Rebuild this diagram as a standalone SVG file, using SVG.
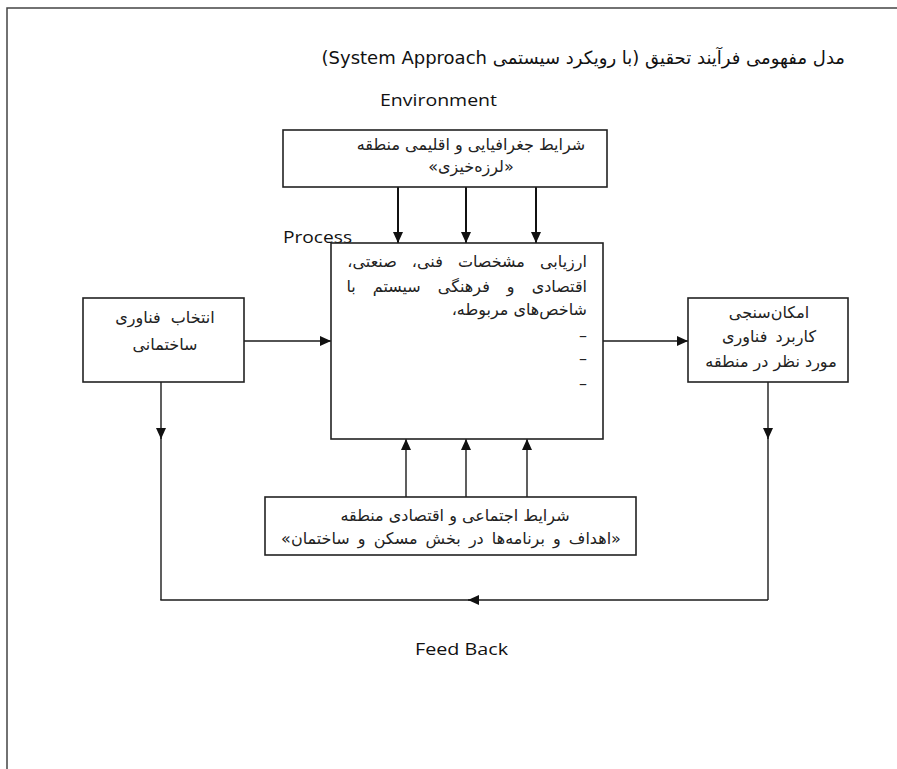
<svg xmlns="http://www.w3.org/2000/svg" width="897" height="769" viewBox="0 0 897 769">
<style>
.bg{fill:#ffffff}
.page{fill:none;stroke:#444;stroke-width:1.5}
.box{fill:#ffffff;stroke:#222;stroke-width:1.6}
.ln{fill:none;stroke:#1a1a1a;stroke-width:1.4}
.lnb{fill:none;stroke:#111;stroke-width:2}
.fa{font-family:"DejaVu Sans","Noto Sans",sans-serif;font-size:16px;fill:#222;direction:rtl}
.title{font-family:"DejaVu Sans",sans-serif;font-size:18px;fill:#111;direction:rtl}
.en{font-family:"Open Sans","DejaVu Sans",sans-serif;font-size:16px;fill:#111}
</style>
<defs>
<marker id="ah" markerUnits="userSpaceOnUse" markerWidth="11" markerHeight="10" refX="11" refY="5" orient="auto">
<path d="M0,0 L11,5 L0,10 z" fill="#111"/>
</marker>
</defs>
<rect class="bg" x="0" y="0" width="897" height="769"/>
<path class="page" d="M7,769 V8 H897"/>

<text class="title" x="845" y="64" text-anchor="start">مدل مفهومی فرآیند تحقیق (با رویکرد سیستمی System Approach)</text>
<text class="en" x="380" y="106" textLength="117" lengthAdjust="spacingAndGlyphs">Environment</text>
<text class="en" x="283" y="243" textLength="69" lengthAdjust="spacingAndGlyphs">Process</text>
<text class="en" x="415" y="655" textLength="93" lengthAdjust="spacingAndGlyphs">Feed Back</text>

<g id="connectors">
<line class="lnb" x1="398" y1="187" x2="398" y2="243" marker-end="url(#ah)"/>
<line class="lnb" x1="466" y1="187" x2="466" y2="243" marker-end="url(#ah)"/>
<line class="lnb" x1="536" y1="187" x2="536" y2="243" marker-end="url(#ah)"/>
<line class="ln" x1="244" y1="341" x2="331" y2="341" marker-end="url(#ah)"/>
<line class="ln" x1="603" y1="341" x2="688" y2="341" marker-end="url(#ah)"/>
<line class="ln" x1="406" y1="497" x2="406" y2="439" marker-end="url(#ah)"/>
<line class="ln" x1="466" y1="497" x2="466" y2="439" marker-end="url(#ah)"/>
<line class="ln" x1="527" y1="497" x2="527" y2="439" marker-end="url(#ah)"/>
<line class="ln" x1="161" y1="382" x2="161" y2="439" marker-end="url(#ah)"/>
<line class="ln" x1="161" y1="437" x2="161" y2="600"/>
<line class="ln" x1="768" y1="382" x2="768" y2="439" marker-end="url(#ah)"/>
<line class="ln" x1="768" y1="437" x2="768" y2="600"/>
<line class="ln" x1="768" y1="600" x2="468" y2="600" marker-end="url(#ah)"/>
<line class="ln" x1="470" y1="600" x2="160.3" y2="600"/>
</g>

<g id="environment">
<rect class="box" x="283" y="130" width="324" height="57"/>
<text class="fa" x="471" y="150" text-anchor="middle">شرایط جغرافیایی و اقلیمی منطقه</text>
<text class="fa" x="471" y="172" text-anchor="middle">«لرزه‌خیزی»</text>
</g>

<g id="process">
<rect class="box" x="331" y="243" width="272" height="196"/>
<text class="fa" x="587" y="267" text-anchor="start" word-spacing="10">ارزیابی مشخصات فنی، صنعتی،</text>
<text class="fa" x="587" y="292" text-anchor="start" word-spacing="12">اقتصادی و فرهنگی سیستم با</text>
<text class="fa" x="587" y="315" text-anchor="start">شاخص‌های مربوطه،</text>
<text class="fa" x="587" y="341" text-anchor="start">–</text>
<text class="fa" x="587" y="364" text-anchor="start">–</text>
<text class="fa" x="587" y="389" text-anchor="start">–</text>
</g>

<g id="technology-selection">
<rect class="box" x="83" y="298" width="161" height="84"/>
<text class="fa" x="165" y="323" text-anchor="middle" word-spacing="5">انتخاب فناوری</text>
<text class="fa" x="165" y="350" text-anchor="middle">ساختمانی</text>
</g>

<g id="feasibility">
<rect class="box" x="688" y="298" width="160" height="84"/>
<text class="fa" x="769" y="318" text-anchor="middle">امکان‌سنجی</text>
<text class="fa" x="769" y="342" text-anchor="middle" word-spacing="3">کاربرد فناوری</text>
<text class="fa" x="771" y="367" text-anchor="middle">مورد نظر در منطقه</text>
</g>

<g id="socio-economic">
<rect class="box" x="265" y="497" width="371" height="58"/>
<text class="fa" x="455" y="521" text-anchor="middle">شرایط اجتماعی و اقتصادی منطقه</text>
<text class="fa" x="451" y="544" text-anchor="middle" word-spacing="3">«اهداف و برنامه‌ها در بخش مسکن و ساختمان»</text>
</g>
</svg>
